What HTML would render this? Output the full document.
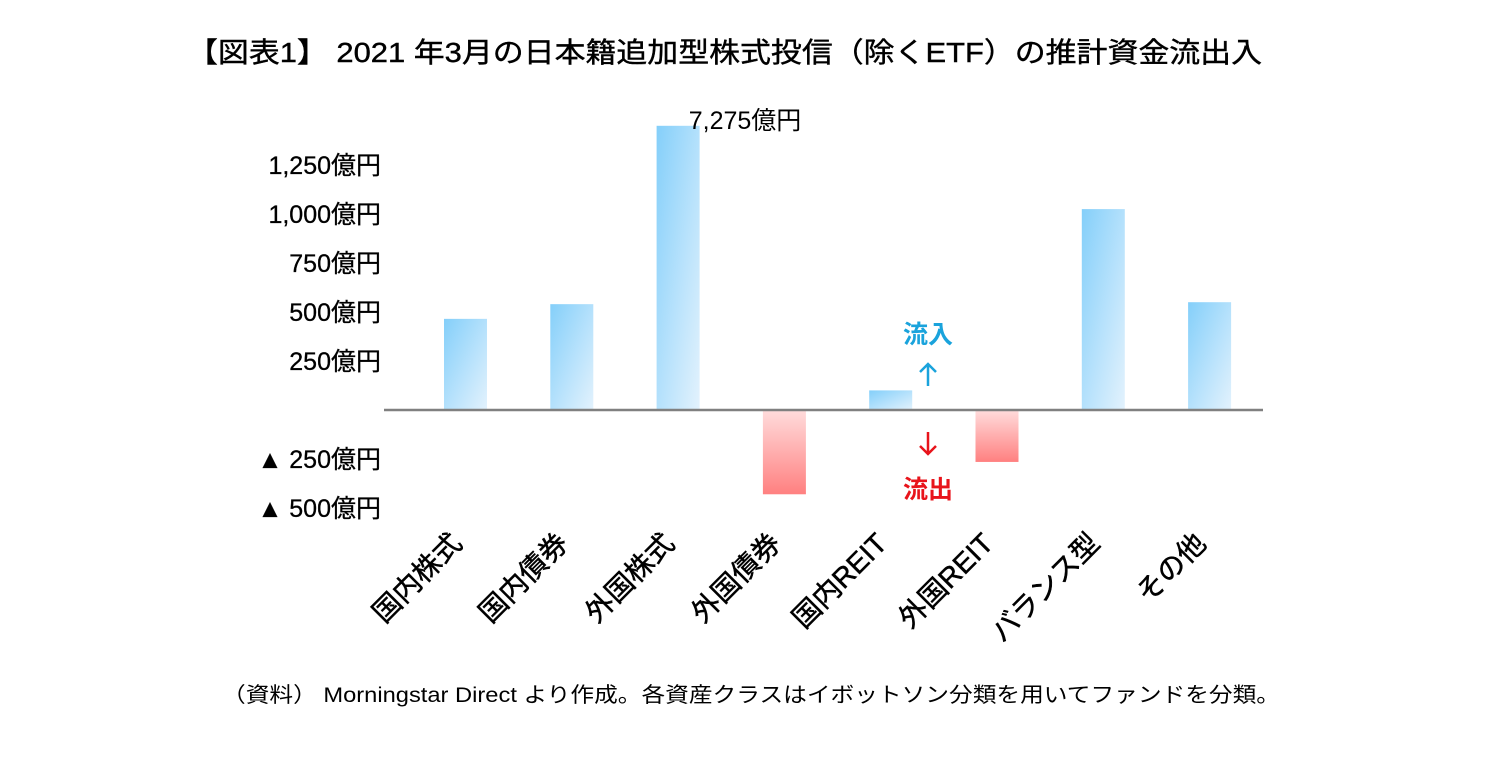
<!DOCTYPE html>
<html><head><meta charset="utf-8"><style>
html,body{margin:0;padding:0;background:#fff;width:1494px;height:768px;overflow:hidden}
svg{display:block;font-family:"Liberation Sans","Noto Sans CJK JP",sans-serif}
</style></head><body>
<svg id="chart" width="1494" height="768" viewBox="0 0 1494 768">
<defs>
<linearGradient id="gBlue" x1="0" y1="0" x2="1" y2="1"><stop offset="0" stop-color="#84cffa"/><stop offset="1" stop-color="#e3f2fd"/></linearGradient>
<linearGradient id="gRed" x1="0" y1="0" x2="0" y2="1"><stop offset="0" stop-color="#ffdcdc"/><stop offset="1" stop-color="#ff8080"/></linearGradient>
</defs>
<text x="187" y="62" font-size="28" textLength="1075" lengthAdjust="spacingAndGlyphs" fill="#000" stroke="#000" stroke-width="0.4">【図表1】 2021 年3月の日本籍追加型株式投信（除くETF）の推計資金流出入</text>
<g id="yticks"></g>
<g id="bars"></g>
<line x1="384" y1="410" x2="1263" y2="410" stroke="#808080" stroke-width="2.5"/>
<g id="xlabels"></g>
<text x="745" y="129" font-size="25" fill="#000" text-anchor="middle">7,275億円</text>
<text x="928" y="343" font-size="25" font-weight="bold" fill="#1aa3dc" text-anchor="middle">流入</text>
<path d="M928 386 V364 M920 372 L928 364 L936 372" stroke="#1aa3dc" stroke-width="2.5" fill="none"/>
<path d="M928 432 V454 M920 446 L928 454 L936 446" stroke="#e8141b" stroke-width="2.5" fill="none"/>
<text x="928" y="498" font-size="25" font-weight="bold" fill="#e8141b" text-anchor="middle">流出</text>
<text x="222" y="702" font-size="21" textLength="1058" lengthAdjust="spacingAndGlyphs" fill="#000">（資料） Morningstar Direct より作成。各資産クラスはイボットソン分類を用いてファンドを分類。</text>
</svg>
<script>
const categories=["国内株式","国内債券","外国株式","外国債券","国内REIT","外国REIT","バランス型","その他"];
const values=[465,540,7275,-430,100,-265,1025,550];
const tickValues=[1250,1000,750,500,250,-250,-500];
const tickLabels=["1,250億円","1,000億円","750億円","500億円","250億円","▲ 250億円","▲ 500億円"];
const NS="http://www.w3.org/2000/svg";
const y0=410, pxPer=49/250, cap=1450;
function yScale(v){return y0-v*pxPer;}
function xScale(i){return 444+i*106.3;}
const bw=43;
const yt=document.getElementById('yticks');
tickValues.forEach((v,i)=>{
  const t=document.createElementNS(NS,'text');
  t.setAttribute('x',381);t.setAttribute('y',yScale(v)+9);
  t.setAttribute('text-anchor','end');t.setAttribute('font-size','25');
  t.setAttribute('stroke','#000');t.setAttribute('stroke-width','0.3');
  t.textContent=tickLabels[i];
  
  
  yt.appendChild(t);
});
const bg=document.getElementById('bars');
values.forEach((v,i)=>{
  const vv=Math.min(v,cap);
  const r=document.createElementNS(NS,'rect');
  const top=Math.min(yScale(vv),y0), bot=Math.max(yScale(vv),y0);
  r.setAttribute('x',xScale(i));r.setAttribute('y',top);
  r.setAttribute('width',bw);r.setAttribute('height',bot-top);
  r.setAttribute('fill',v>=0?'url(#gBlue)':'url(#gRed)');
  
  
  bg.appendChild(r);
});
const xl=document.getElementById('xlabels');
categories.forEach((c,i)=>{
  const cx=xScale(i)+bw/2-2, cy=545;
  const t=document.createElementNS(NS,'text');
  t.setAttribute('x',cx);t.setAttribute('y',cy);
  t.setAttribute('text-anchor','end');t.setAttribute('font-size','28');
  t.setAttribute('stroke','#000');t.setAttribute('stroke-width','0.5');
  t.setAttribute('transform','rotate(-45 '+cx+' '+cy+')');
  t.textContent=c;
  
  
  xl.appendChild(t);
});
</script>
</body></html>
